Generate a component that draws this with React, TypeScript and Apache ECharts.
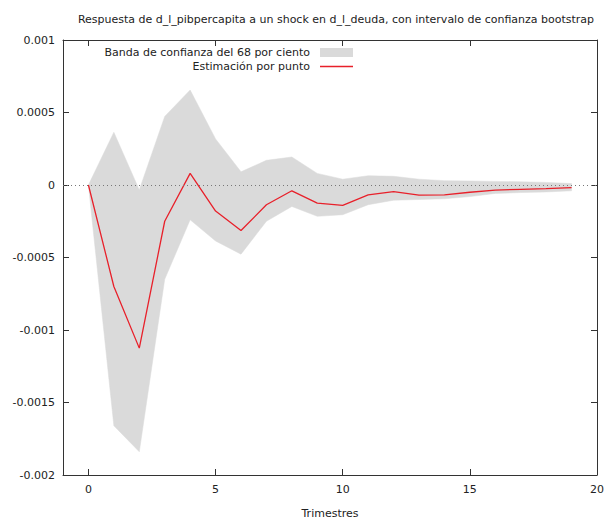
import React, { useEffect, useRef } from "react";
import * as echarts from "echarts";

const periods = [0, 1, 2, 3, 4, 5, 6, 7, 8, 9, 10, 11, 12, 13, 14, 15, 16, 17, 18, 19];
const pointEstimate = [
  0, -0.0007, -0.001125, -0.00025, 0.00008, -0.00018, -0.000314, -0.000136, -0.00004, -0.000125,
  -0.00014, -0.000068, -0.000045, -0.00007, -0.000068, -0.00005, -0.000035, -0.00003, -0.000025, -0.000018,
];
const bandUpper = [
  0, 0.000364, -0.000034, 0.000473, 0.000655, 0.000318, 0.000091, 0.00017, 0.000193, 0.00008,
  0.00004, 0.000064, 0.00006, 0.00004, 0.00003, 0.000028, 0.000025, 0.000022, 0.000018, 0.00001,
];
const bandLower = [
  0, -0.00166, -0.00184, -0.00065, -0.00024, -0.000386, -0.000477, -0.00025, -0.000148, -0.000216,
  -0.000205, -0.000136, -0.000105, -0.0001, -0.000095, -0.00008, -0.000058, -0.000052, -0.000048, -0.00004,
];
const xTicks = [0, 5, 10, 15, 20];

const titleText =
  "Respuesta de d_l_pibpercapita a un shock en d_l_deuda, con intervalo de confianza bootstrap";
const bandName = "Banda de confianza del 68 por ciento";
const lineName = "Estimación por punto";
const xName = "Trimestres";

const FONT = "DejaVu Sans";
const BAND_COLOR = "#dadada";
const LINE_COLOR = "#e8202a";

export default function App() {
  const ref = useRef<HTMLDivElement>(null);
  useEffect(() => {
    if (!ref.current) return;
    const chart = echarts.init(ref.current, null, { renderer: "svg" });
    const axisColor = "#333";
    const fmt = (v: number) => parseFloat(Number(v).toFixed(4)).toString();
    const bandData = periods.map((p, i) => [p, bandLower[i], bandUpper[i]]);
    const legendText = { fontFamily: FONT, fontSize: 11, color: "#222", padding: [0, 5, 0, 0] };
    chart.setOption({
      animation: false,
      backgroundColor: "#fff",
      textStyle: { fontFamily: FONT },
      title: {
        text: titleText,
        left: 331,
        textAlign: "center",
        top: 9,
        textStyle: { fontFamily: FONT, fontSize: 11, fontWeight: "normal", color: "#222" },
      },
      legend: [
        {
          data: [{ name: bandName, icon: "rect" }],
          right: 254,
          top: 47,
          padding: 0,
          align: "right",
          itemWidth: 33,
          itemHeight: 9,
          selectedMode: false,
          textStyle: legendText,
        },
        {
          data: [{ name: lineName, icon: "rect" }],
          right: 254,
          top: 61,
          padding: 0,
          align: "right",
          itemWidth: 33,
          itemHeight: 1.4,
          selectedMode: false,
          textStyle: legendText,
        },
      ],
      grid: { left: 63, right: 9, top: 40, bottom: 44, containLabel: false },
      xAxis: [
        {
          type: "value",
          min: -1,
          max: 20,
          name: xName,
          nameLocation: "middle",
          nameGap: 33,
          nameTextStyle: { fontFamily: FONT, fontSize: 11, color: "#222" },
          splitLine: { show: false },
          axisLine: { onZero: false, lineStyle: { color: axisColor, width: 1 } },
          axisTick: { inside: true, length: 6, customValues: xTicks, lineStyle: { color: axisColor } },
          axisLabel: {
            customValues: xTicks,
            margin: 9,
            fontFamily: FONT,
            fontSize: 11,
            color: "#222",
          },
        },
        {
          type: "value",
          position: "top",
          min: -1,
          max: 20,
          splitLine: { show: false },
          axisLine: { onZero: false, lineStyle: { color: axisColor, width: 1 } },
          axisTick: { inside: true, length: 6, customValues: xTicks, lineStyle: { color: axisColor } },
          axisLabel: { show: false },
        },
      ],
      yAxis: [
        {
          type: "value",
          min: -0.002,
          max: 0.001,
          interval: 0.0005,
          splitLine: { show: false },
          axisLine: { show: true, onZero: false, lineStyle: { color: axisColor, width: 1 } },
          axisTick: { show: true, inside: true, length: 6, lineStyle: { color: axisColor } },
          axisLabel: { formatter: fmt, margin: 8, fontFamily: FONT, fontSize: 11, color: "#222" },
        },
        {
          type: "value",
          position: "right",
          min: -0.002,
          max: 0.001,
          interval: 0.0005,
          splitLine: { show: false },
          axisLine: { show: true, onZero: false, lineStyle: { color: axisColor, width: 1 } },
          axisTick: { show: true, inside: true, length: 6, lineStyle: { color: axisColor } },
          axisLabel: { show: false },
        },
      ],
      series: [
        {
          name: bandName,
          type: "custom",
          data: bandData,
          itemStyle: { color: BAND_COLOR },
          silent: true,
          z: 1,
          renderItem: (params: any, api: any) => {
            if (params.dataIndex !== 0) return null;
            const top = bandData.map((d) => api.coord([d[0], d[2]]));
            const bottom = bandData.map((d) => api.coord([d[0], d[1]])).reverse();
            return {
              type: "polygon",
              shape: { points: top.concat(bottom) },
              style: { fill: BAND_COLOR, stroke: BAND_COLOR, lineWidth: 0.5 },
            };
          },
        },
        {
          name: "zero",
          type: "line",
          data: [],
          silent: true,
          z: 2,
          markLine: {
            silent: true,
            symbol: "none",
            label: { show: false },
            lineStyle: { color: "#777", type: [1, 3], width: 1 },
            data: [{ yAxis: 0 }],
          },
        },
        {
          name: lineName,
          type: "line",
          data: periods.map((p, i) => [p, pointEstimate[i]]),
          symbol: "none",
          itemStyle: { color: LINE_COLOR },
          lineStyle: { color: LINE_COLOR, width: 1.3 },
          z: 3,
        },
      ],
    });
    return () => chart.dispose();
  }, []);
  return (
    <div
      ref={ref}
      style={{ position: "fixed", left: 0, top: 0, width: 607, height: 524, background: "#fff" }}
    />
  );
}
